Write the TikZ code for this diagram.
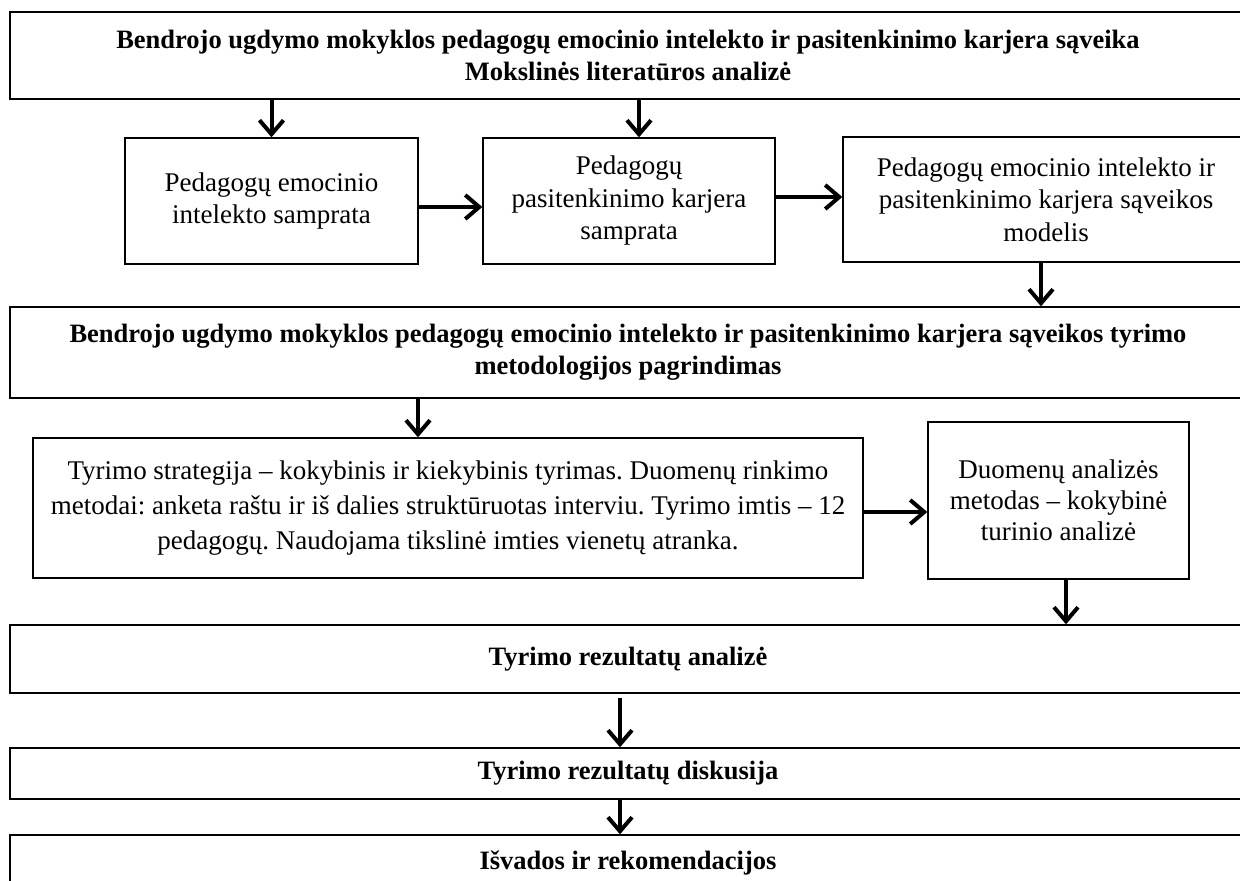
\documentclass[tikz,border=0pt]{standalone}
\usepackage{fontspec}
\setmainfont{Liberation Serif}
\usetikzlibrary{arrows.meta}
\frenchspacing
\begin{document}
\begin{tikzpicture}[x=1pt,y=-1pt,
  box/.style={draw=black,line width=1.4pt,rectangle,inner sep=0pt,align=center,
    font=\fontsize{27}{32.5}\selectfont},
  headbox/.style={box,font=\fontsize{26.5}{32}\selectfont\bfseries},
  flow/.style={line width=4pt,-{Straight Barb[length=14pt,width=24pt,line width=4pt]}}]
\useasboundingbox (0,0) rectangle (1240,881);
\fill[white] (0,0) rectangle (1240,881);
\clip (0,0) rectangle (1240,881);

% literature analysis part
\node[headbox,minimum width=1236pt,minimum height=87pt] (top) at (628,55.5)
  {Bendrojo ugdymo mokyklos pedagogų emocinio intelekto ir pasitenkinimo karjera sąveika\\
   Mokslinės literatūros analizė};
\node[box,minimum width=293pt,minimum height=126pt] (ei) at (271.5,201)
  {Pedagogų emocinio\\intelekto samprata};
\node[box,minimum width=292pt,minimum height=126pt] (pk) at (629,201)
  {Pedagogų\\pasitenkinimo karjera\\samprata};
\node[box,minimum width=406pt,minimum height=125pt] (mod) at (1046,199.5)
  {Pedagogų emocinio intelekto ir\\pasitenkinimo karjera sąveikos\\modelis};

% methodology part
\node[headbox,minimum width=1236pt,minimum height=91pt] (meth) at (628,352.5)
  {Bendrojo ugdymo mokyklos pedagogų emocinio intelekto ir pasitenkinimo karjera sąveikos tyrimo\\
   metodologijos pagrindimas};
\node[box,minimum width=830pt,minimum height=140pt,font=\fontsize{27}{35}\selectfont] (strat) at (448,508)
  {Tyrimo strategija – kokybinis ir kiekybinis tyrimas. Duomenų rinkimo\\
   metodai: anketa raštu ir iš dalies struktūruotas interviu. Tyrimo imtis – 12\\
   pedagogų. Naudojama tikslinė imties vienetų atranka.};
\node[box,minimum width=261pt,minimum height=157pt,font=\fontsize{27}{31}\selectfont] (anal) at (1058.5,500.5)
  {Duomenų analizės\\metodas – kokybinė\\turinio analizė};

% results part
\node[headbox,minimum width=1236pt,minimum height=68pt] (res) at (628,659)
  {Tyrimo rezultatų analizė};
\node[headbox,minimum width=1236pt,minimum height=51pt] (disc) at (628,773.5)
  {Tyrimo rezultatų diskusija};
\node[headbox,minimum width=1236pt,minimum height=56pt] (concl) at (628,863)
  {Išvados ir rekomendacijos};

% connectors
\draw[flow] (ei.north |- top.south) -- (ei.north);
\draw[flow] ([xshift=10pt]pk.north |- top.south) -- ([xshift=10pt]pk.north);
\draw[flow] ([yshift=-6pt]ei.east) -- ([yshift=-6pt]ei.east -| pk.west);
\draw[flow] ([yshift=4pt]pk.east) -- ([yshift=4pt]pk.east -| mod.west);
\draw[flow] ([xshift=-5pt]mod.south) -- ([xshift=-5pt]mod.south |- meth.north);
\draw[flow] ([xshift=-30pt]strat.north |- meth.south) -- ([xshift=-30pt]strat.north);
\draw[flow] ([yshift=-4pt]strat.east) -- ([yshift=-4pt]strat.east -| anal.west);
\draw[flow] ([xshift=7.5pt]anal.south) -- ([xshift=7.5pt]anal.south |- res.north);
\draw[flow] ([xshift=-8pt,yshift=-4pt]res.south) -- ([xshift=-8pt]res.south |- disc.north);
\draw[flow] ([xshift=-8pt]disc.south) -- ([xshift=-8pt]disc.south |- concl.north);
\end{tikzpicture}
\end{document}
